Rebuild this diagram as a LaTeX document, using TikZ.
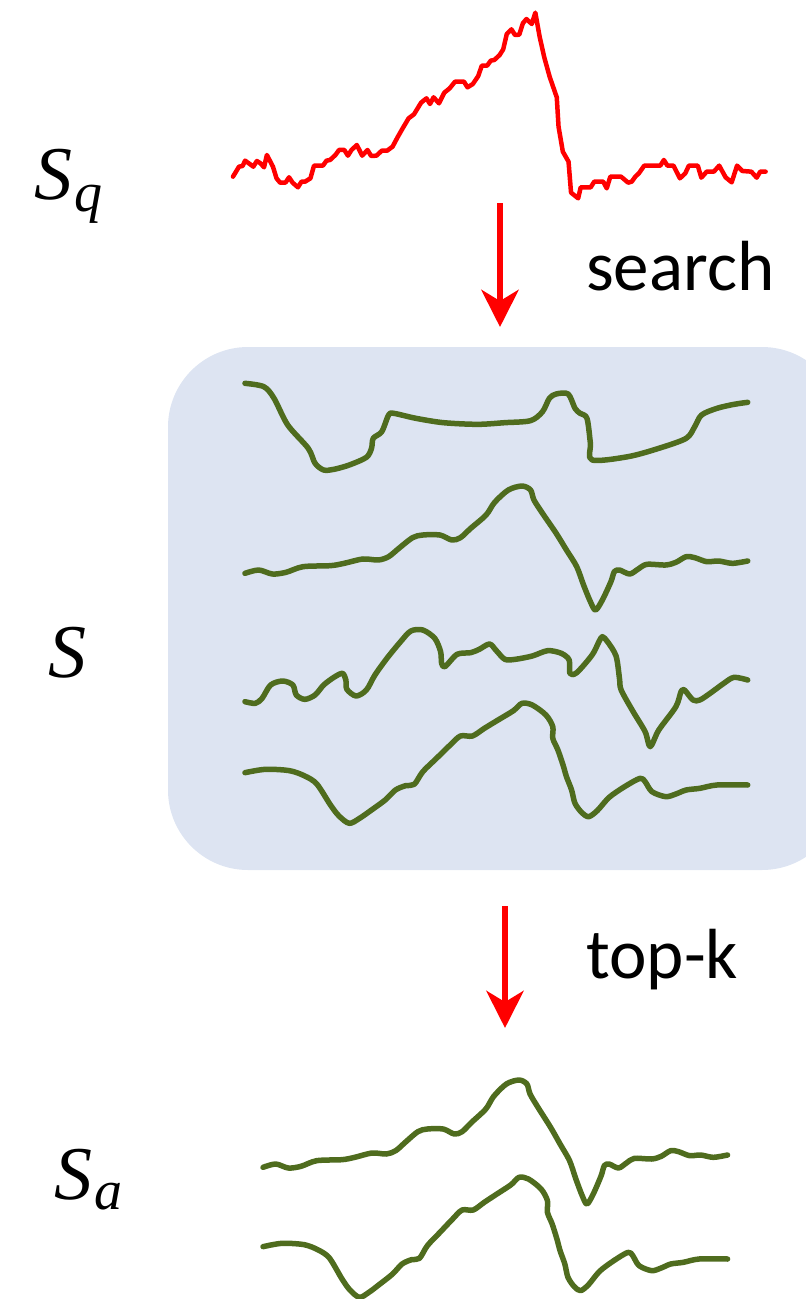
\documentclass[tikz,border=0pt]{standalone}
\usepackage{fontspec}
\newfontfamily\captionfont{Carlito}
\newfontfamily\namefont{Liberation Serif}
\usetikzlibrary{arrows.meta}
\definecolor{wavegreen}{RGB}{79,108,30}
\definecolor{queryred}{RGB}{255,0,0}
\definecolor{poolblue}{RGB}{221,228,242}

% series shapes, in a local 3:1 sketch grid
\newcommand\waveOne{plot[smooth,tension=0.5] coordinates {(40,40) (95,50) (125,85) (165,165) (225,235) (245,280) (270,300) (300,298) (345,285) (395,262) (410,235) (415,205) (440,185) (460,135) (475,130) (540,145) (620,158) (720,163) (800,158) (875,152) (910,125) (930,85) (950,72) (985,72) (1005,115) (1020,130) (1040,145) (1050,220) (1055,270) (1160,260) (1250,235) (1330,205) (1355,170) (1375,135) (1420,115) (1470,103) (1510,97)}}
\newcommand\waveTwo{plot[smooth,tension=0.5] coordinates {(40,295) (80,285) (120,297) (160,292) (210,275) (290,272) (330,265) (385,252) (430,255) (460,245) (490,220) (530,188) (560,180) (610,180) (645,195) (670,188) (700,160) (745,120) (770,82) (810,45) (850,33) (875,45) (885,75) (910,115) (950,175) (980,225) (1010,275) (1030,330) (1050,380) (1065,405) (1085,375) (1110,320) (1120,290) (1135,285) (1165,297) (1190,282) (1215,268) (1270,270) (1300,262) (1330,245) (1355,248) (1390,260) (1425,258) (1465,265) (1510,258)}}
\newcommand\waveThree{plot[smooth,tension=0.5] coordinates {(40,245) (70,250) (90,235) (115,195) (150,183) (180,195) (190,225) (215,238) (245,225) (270,195) (300,172) (325,160) (335,180) (338,208) (365,228) (395,210) (420,165) (455,115) (495,65) (525,33) (560,30) (595,55) (612,95) (615,130) (625,140) (660,103) (700,98) (725,88) (755,72) (775,92) (800,118) (830,118) (880,108) (925,92) (965,100) (988,120) (990,160) (1010,158) (1055,105) (1075,65) (1085,50) (1100,65) (1125,108) (1135,175) (1140,210) (1175,275) (1210,335) (1225,380) (1250,330) (1300,260) (1315,215) (1325,210) (1350,240) (1370,240) (1400,220) (1440,190) (1470,172) (1510,180)}}
\newcommand\waveFour{plot[smooth,tension=0.5] coordinates {(40,248) (100,238) (170,242) (215,258) (250,282) (290,345) (315,378) (345,400) (375,385) (410,360) (450,330) (480,300) (510,287) (535,283) (560,245) (600,205) (640,165) (670,138) (705,138) (740,115) (780,90) (825,62) (850,40) (880,45) (920,75) (940,110) (940,145) (955,180) (970,225) (980,260) (995,300) (1005,340) (1025,368) (1045,380) (1070,362) (1105,322) (1150,290) (1195,265) (1210,275) (1230,305) (1270,320) (1300,312) (1330,300) (1370,295) (1420,285) (1510,285)}}

\tikzset{
  series/.style={draw=wavegreen, line width=5.5pt, line cap=round, line join=round},
  query/.style={draw=queryred, line width=4.5pt, line join=round, line cap=round},
  flow/.style={draw=queryred, line width=6.5pt, -{Stealth[length=37pt,width=37pt,inset=11pt]}},
  pool/.style={fill=poolblue, rounded corners=80pt, inner sep=0pt},
  caption/.style={anchor=base west, inner sep=0pt, font=\captionfont\fontsize{71}{80}\selectfont},
  setname/.style={anchor=base west, inner sep=0pt, font=\namefont\itshape}
}

\begin{document}
\begin{tikzpicture}[x=1pt,y=-1pt]
\useasboundingbox (0,0) rectangle (806,1299);

% data set panel
\node[pool, minimum width=674pt, minimum height=523pt] (pool) at (505,608.5) {};

% query series
\begin{scope}[shift={(219.4,0)}, xscale=0.357, yscale=0.3333]
\draw[query] plot coordinates {(38,530) (55,500) (65,498) (72,482) (85,492) (95,500) (105,483) (115,490) (125,502) (133,465) (150,500) (160,535) (170,548) (185,548) (195,532) (205,548) (220,562) (230,545) (240,545) (255,535) (265,497) (290,497) (300,482) (310,480) (325,465) (335,450) (350,450) (360,467) (370,450) (385,435) (400,467) (415,450) (425,468) (440,467) (455,452) (470,452) (485,440) (500,410) (515,382) (530,355) (545,343) (565,308) (580,295) (590,312) (600,292) (615,310) (630,278) (645,265) (660,245) (685,245) (695,262) (710,252) (725,228) (735,197) (750,197) (760,182) (770,180) (785,165) (795,148) (805,102) (818,88) (828,105) (840,104) (850,70) (860,57) (875,72) (885,38) (897,110) (910,172) (925,230) (945,292) (950,380) (962,455) (978,485) (985,578) (1005,595) (1012,562) (1040,562) (1050,545) (1075,545) (1085,565) (1095,530) (1125,530) (1145,548) (1155,545) (1165,530) (1175,520) (1190,497) (1235,497) (1245,480) (1255,497) (1272,497) (1290,535) (1305,520) (1315,497) (1340,497) (1350,533) (1365,515) (1385,515) (1400,497) (1418,532) (1435,547) (1450,497) (1465,513) (1490,515) (1505,533) (1515,515) (1530,515)};
\end{scope}

% series in the data set
\begin{scope}[shift={(231.3,370)}, xscale=0.342, yscale=0.3333]
\draw[series] \waveOne;
\end{scope}
\begin{scope}[shift={(231.3,475)}, xscale=0.342, yscale=0.3333]
\draw[series] \waveTwo;
\end{scope}
\begin{scope}[shift={(231.3,620)}, xscale=0.342, yscale=0.3333]
\draw[series] \waveThree;
\end{scope}
\begin{scope}[shift={(231.3,690)}, xscale=0.342, yscale=0.3333]
\draw[series] \waveFour;
\end{scope}

% answer set
\begin{scope}[shift={(250.4,1069)}, xscale=0.316, yscale=0.3333]
\draw[series] \waveTwo;
\end{scope}
\begin{scope}[shift={(250.4,1164)}, xscale=0.316, yscale=0.3333]
\draw[series] \waveFour;
\end{scope}

% arrows
\coordinate (searchTail) at (500,203);
\coordinate (searchTip) at (500,327);
\draw[flow] (searchTail) -- (searchTip);
\coordinate (topkTail) at (505,906);
\coordinate (topkTip) at (505,1028);
\draw[flow] (topkTail) -- (topkTip);

% captions
\node[caption] (search) at (586,290) {search};
\node[caption] (topk) at (586,978) {top-k};

% set names
\node[setname] (Sq) at (34,199) {\fontsize{76}{80}\selectfont S\kern2pt\raisebox{-12pt}{\fontsize{56}{60}\selectfont q}};
\node[setname] (S) at (48,677) {\fontsize{76}{80}\selectfont S};
\node[setname] (Sa) at (54,1199) {\fontsize{76}{80}\selectfont S\kern2pt\raisebox{-10pt}{\fontsize{56}{60}\selectfont a}};
\end{tikzpicture}
\end{document}
